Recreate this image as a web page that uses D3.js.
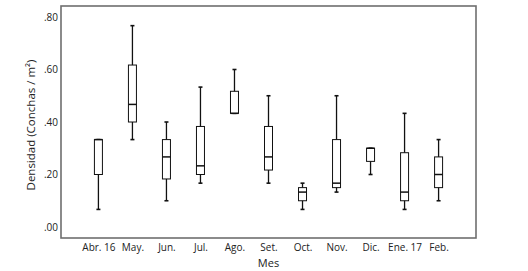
<!DOCTYPE html>
<html>
<head>
<meta charset="utf-8">
<script src="https://cdn.jsdelivr.net/npm/d3@7"></script>
<style>
  body { margin: 0; background: #fff; }
  text { font-family: "Open Sans", "Noto Sans", sans-serif; fill: #222; }
</style>
</head>
<body>
<div id="box_plot"></div>
<script>
// data
let months = ["Abr. 16", "May.", "Jun.", "Jul.", "Ago.", "Set.", "Oct.", "Nov.", "Dic.", "Ene. 17", "Feb."];
let mins    = [0.067, 0.333, 0.100, 0.167, 0.433, 0.167, 0.067, 0.133, 0.200, 0.067, 0.100];
let q1s     = [0.200, 0.400, 0.183, 0.200, 0.433, 0.217, 0.100, 0.150, 0.250, 0.100, 0.150];
let medians = [0.333, 0.467, 0.267, 0.233, 0.433, 0.267, 0.133, 0.167, 0.300, 0.133, 0.200];
let q3s     = [0.333, 0.617, 0.333, 0.383, 0.517, 0.383, 0.150, 0.333, 0.300, 0.283, 0.267];
let maxs    = [0.333, 0.767, 0.400, 0.533, 0.600, 0.500, 0.167, 0.500, 0.300, 0.433, 0.333];
let y_ticks = [0, 0.2, 0.4, 0.6, 0.8];

let margin = {top: 6, right: 52, bottom: 33, left: 61},
    width = 528 - margin.left - margin.right,
    height = 271 - margin.top - margin.bottom;

let svg = d3.select("#box_plot")
    .append("svg")
    .attr("width", 528)
    .attr("height", 271)
    .append("g")
    .attr("transform", "translate(" + margin.left + "," + margin.top + ")");

let x = d3.scalePoint()
    .domain(months)
    .range([0, width])
    .padding(1.1);

let y = d3.scaleLinear()
    .domain([0, 0.8])
    .range([221, 11]);

// frame
svg.append("rect")
    .attr("x", 0).attr("y", 0)
    .attr("width", width).attr("height", height)
    .attr("fill", "none")
    .attr("stroke", "#6e6e6e")
    .attr("stroke-width", 1.6);

// y axis labels
svg.append("g")
    .call(d3.axisLeft(y).tickValues(y_ticks).tickSize(0).tickPadding(3)
        .tickFormat(function(d) { return d3.format(".2f")(d).replace(/^0/, ""); }))
    .call(function(g) { g.select(".domain").remove(); })
    .selectAll("text")
    .attr("font-size", "10px")
    .style("font-family", "'Open Sans', sans-serif");

// x axis labels
svg.append("g")
    .attr("transform", "translate(0," + height + ")")
    .call(d3.axisBottom(x).tickSize(0).tickPadding(6))
    .call(function(g) { g.select(".domain").remove(); })
    .selectAll("text")
    .attr("font-size", "10px")
    .style("font-family", "'Open Sans', sans-serif");

let data = months.map(function(m, i) {
    return {month: m, min: mins[i], q1: q1s[i], med: medians[i], q3: q3s[i], max: maxs[i]};
});

let box_w = 8, cap_w = 4;

let groups = svg.selectAll(".box")
    .data(data)
    .enter()
    .append("g")
    .attr("class", "box");

// whiskers
groups.append("line")
    .attr("x1", function(d) { return x(d.month); })
    .attr("x2", function(d) { return x(d.month); })
    .attr("y1", function(d) { return y(d.min); })
    .attr("y2", function(d) { return y(d.max); })
    .attr("stroke", "#111")
    .attr("stroke-width", 1.3);

// caps
groups.selectAll(".cap")
    .data(function(d) { return [{m: d.month, v: d.min}, {m: d.month, v: d.max}]; })
    .enter()
    .append("line")
    .attr("x1", function(d) { return x(d.m) - cap_w / 2; })
    .attr("x2", function(d) { return x(d.m) + cap_w / 2; })
    .attr("y1", function(d) { return y(d.v); })
    .attr("y2", function(d) { return y(d.v); })
    .attr("stroke", "#111")
    .attr("stroke-width", 1.6);

// boxes
groups.append("rect")
    .attr("x", function(d) { return x(d.month) - box_w / 2; })
    .attr("y", function(d) { return y(d.q3); })
    .attr("width", box_w)
    .attr("height", function(d) { return y(d.q1) - y(d.q3); })
    .attr("fill", "#fff")
    .attr("stroke", "#111")
    .attr("stroke-width", 1);

// medians
groups.append("line")
    .attr("x1", function(d) { return x(d.month) - box_w / 2; })
    .attr("x2", function(d) { return x(d.month) + box_w / 2; })
    .attr("y1", function(d) { return y(d.med); })
    .attr("y2", function(d) { return y(d.med); })
    .attr("stroke", "#111")
    .attr("stroke-width", 1.5);

// axis titles
svg.append("text")
    .attr("transform", "rotate(-90)")
    .attr("x", -(119))
    .attr("y", -26)
    .attr("text-anchor", "middle")
    .attr("font-size", "11.5px")
    .text("Densidad (Conchas / m²)");

svg.append("text")
    .attr("x", x("Set."))
    .attr("y", height + 29)
    .attr("text-anchor", "middle")
    .attr("font-size", "11px")
    .text("Mes");
</script>
</body>
</html>
